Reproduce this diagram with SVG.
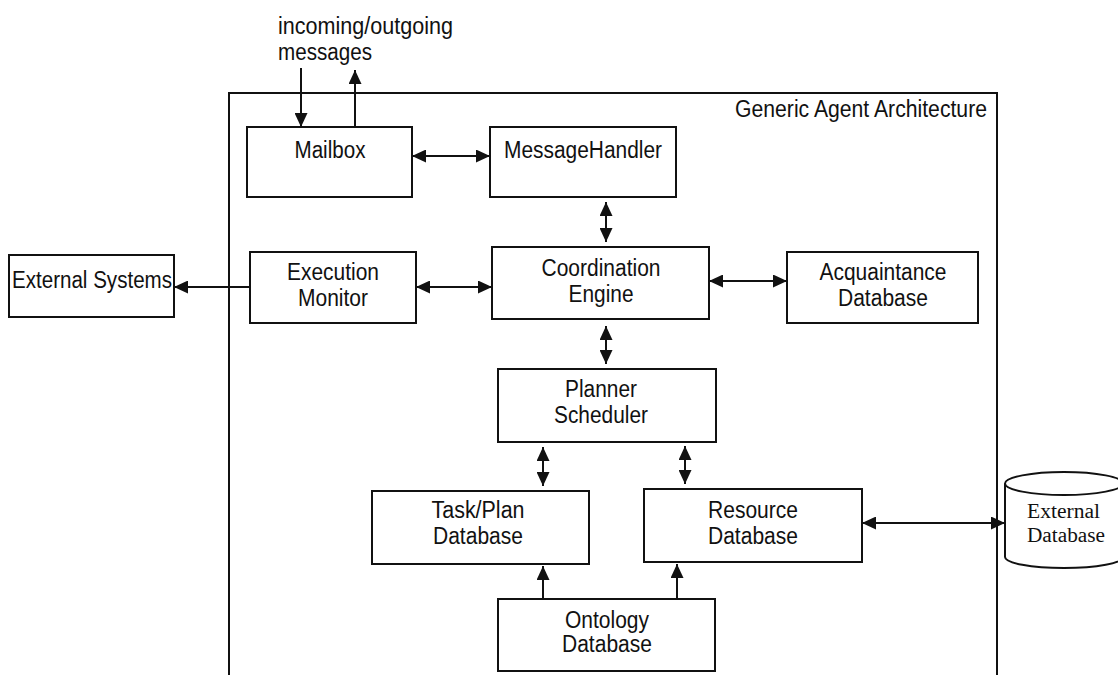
<svg xmlns="http://www.w3.org/2000/svg" width="1118" height="675" viewBox="0 0 1118 675">
<style>
.box{fill:#fff;stroke:#111;stroke-width:2}
.frame{fill:none;stroke:#111;stroke-width:2}
.t{font-family:"Liberation Sans",Arial,sans-serif;font-size:23px;fill:#111;text-anchor:middle}
.tl{font-family:"Liberation Sans",Arial,sans-serif;font-size:23px;fill:#111}
.ts{font-family:"Liberation Serif","Times New Roman",serif;font-size:20px;fill:#111}
.c{fill:none;stroke:#111;stroke-width:2}
</style>
<defs>
<marker id="ah" markerUnits="userSpaceOnUse" markerWidth="14" markerHeight="13" refX="14" refY="6.5" orient="auto-start-reverse" viewBox="0 0 14 13">
<path d="M0,0 L14,6.5 L0,13 z" fill="#111"/>
</marker>
</defs>
<rect width="1118" height="675" fill="#fff"/>
<g id="frame">
<rect class="frame" x="229" y="93" width="768" height="620"/>
<text class="tl" x="735" y="117" textLength="252" lengthAdjust="spacingAndGlyphs">Generic Agent Architecture</text>
</g>
<g id="label-messages">
<text class="tl" x="278" y="34" textLength="175" lengthAdjust="spacingAndGlyphs">incoming/outgoing</text>
<text class="tl" x="278" y="60" textLength="94" lengthAdjust="spacingAndGlyphs">messages</text>
</g>
<g id="mailbox">
<rect class="box" x="247" y="127" width="165" height="70"/>
<text class="t" x="330" y="158" textLength="71" lengthAdjust="spacingAndGlyphs">Mailbox</text>
</g>
<g id="messagehandler">
<rect class="box" x="490" y="127" width="186" height="70"/>
<text class="t" x="583" y="158" textLength="158" lengthAdjust="spacingAndGlyphs">MessageHandler</text>
</g>
<g id="external-systems">
<rect class="box" x="9" y="255" width="165" height="62"/>
<text class="t" x="92" y="288" textLength="160" lengthAdjust="spacingAndGlyphs">External Systems</text>
</g>
<g id="execution-monitor">
<rect class="box" x="250" y="252" width="166" height="71"/>
<text class="t" x="333" y="280" textLength="92" lengthAdjust="spacingAndGlyphs">Execution</text>
<text class="t" x="333" y="306" textLength="70" lengthAdjust="spacingAndGlyphs">Monitor</text>
</g>
<g id="coordination-engine">
<rect class="box" x="492" y="247" width="217" height="72"/>
<text class="t" x="601" y="276" textLength="119" lengthAdjust="spacingAndGlyphs">Coordination</text>
<text class="t" x="601" y="302" textLength="65" lengthAdjust="spacingAndGlyphs">Engine</text>
</g>
<g id="acquaintance-database">
<rect class="box" x="787" y="252" width="191" height="71"/>
<text class="t" x="883" y="280" textLength="127" lengthAdjust="spacingAndGlyphs">Acquaintance</text>
<text class="t" x="883" y="306" textLength="90" lengthAdjust="spacingAndGlyphs">Database</text>
</g>
<g id="planner-scheduler">
<rect class="box" x="498" y="369" width="218" height="73"/>
<text class="t" x="601" y="397" textLength="72" lengthAdjust="spacingAndGlyphs">Planner</text>
<text class="t" x="601" y="423" textLength="94" lengthAdjust="spacingAndGlyphs">Scheduler</text>
</g>
<g id="taskplan-database">
<rect class="box" x="372" y="491" width="217" height="73"/>
<text class="t" x="478" y="518" textLength="93" lengthAdjust="spacingAndGlyphs">Task/Plan</text>
<text class="t" x="478" y="544" textLength="90" lengthAdjust="spacingAndGlyphs">Database</text>
</g>
<g id="resource-database">
<rect class="box" x="644" y="489" width="218" height="73"/>
<text class="t" x="753" y="518" textLength="90" lengthAdjust="spacingAndGlyphs">Resource</text>
<text class="t" x="753" y="544" textLength="90" lengthAdjust="spacingAndGlyphs">Database</text>
</g>
<g id="ontology-database">
<rect class="box" x="498" y="599" width="217" height="72"/>
<text class="t" x="607" y="628" textLength="84" lengthAdjust="spacingAndGlyphs">Ontology</text>
<text class="t" x="607" y="652" textLength="90" lengthAdjust="spacingAndGlyphs">Database</text>
</g>
<g id="external-database">
<path class="box" d="M1005,483.5 L1005,557 A59,11 0 0 0 1123,557 L1123,483.5"/>
<ellipse class="box" cx="1064" cy="483.5" rx="59" ry="11.5"/>
<text class="ts" x="1027" y="518" textLength="73" lengthAdjust="spacingAndGlyphs">External</text>
<text class="ts" x="1027" y="542" textLength="78" lengthAdjust="spacingAndGlyphs">Database</text>
</g>
<g id="connectors">
<line class="c" x1="301" y1="68" x2="301" y2="127" marker-end="url(#ah)"/>
<line class="c" x1="355" y1="127" x2="355" y2="70" marker-end="url(#ah)"/>
<line class="c" x1="412" y1="156" x2="490" y2="156" marker-start="url(#ah)" marker-end="url(#ah)"/>
<line class="c" x1="606" y1="202" x2="606" y2="242" marker-start="url(#ah)" marker-end="url(#ah)"/>
<line class="c" x1="250" y1="287" x2="174" y2="287" marker-end="url(#ah)"/>
<line class="c" x1="416" y1="287" x2="492" y2="287" marker-start="url(#ah)" marker-end="url(#ah)"/>
<line class="c" x1="709" y1="281" x2="787" y2="281" marker-start="url(#ah)" marker-end="url(#ah)"/>
<line class="c" x1="606" y1="326" x2="606" y2="364" marker-start="url(#ah)" marker-end="url(#ah)"/>
<line class="c" x1="543" y1="447" x2="543" y2="486" marker-start="url(#ah)" marker-end="url(#ah)"/>
<line class="c" x1="685" y1="446" x2="685" y2="484" marker-start="url(#ah)" marker-end="url(#ah)"/>
<line class="c" x1="543" y1="599" x2="543" y2="566" marker-end="url(#ah)"/>
<line class="c" x1="677" y1="599" x2="677" y2="564" marker-end="url(#ah)"/>
<line class="c" x1="862" y1="523" x2="1005" y2="523" marker-start="url(#ah)" marker-end="url(#ah)"/>
</g>
</svg>
